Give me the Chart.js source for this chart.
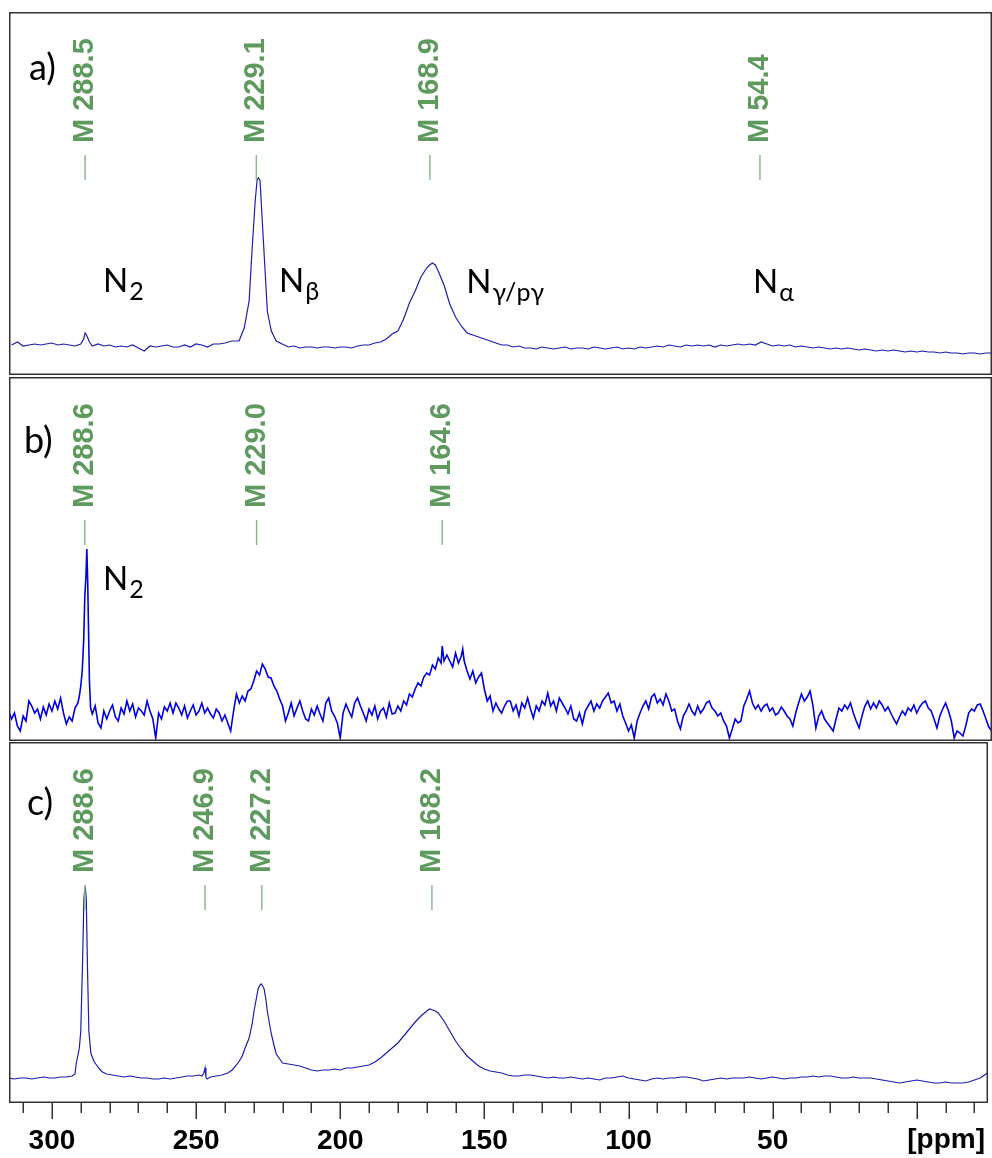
<!DOCTYPE html>
<html>
<head>
<meta charset="utf-8">
<title>15N NMR spectra a) b) c)</title>
<script src="https://cdn.jsdelivr.net/npm/chart.js@4.4.1/dist/chart.umd.min.js"></script>
<style>
  html, body { margin: 0; padding: 0; background: #fff; overflow: hidden; }
  body { width: 992px; height: 1158px; position: relative; }
  canvas { position: absolute; }
  #panelA { left: 9px; top: 12px; }
  #panelB { left: 9px; top: 377px; }
  #panelC { left: 9px; top: 742px; }
</style>
</head>
<body>
<canvas id="panelA" width="983" height="363"></canvas>
<canvas id="panelB" width="983" height="364"></canvas>
<canvas id="panelC" width="979" height="416"></canvas>
<script>
// ppm axis
const majorTicks = [300, 250, 200, 150, 100, 50];
const minorTicks = [310, 300, 290, 280, 270, 260, 250, 240, 230, 220, 210, 200, 190, 180, 170,
  160, 150, 140, 130, 120, 110, 100, 90, 80, 70, 60, 50, 40, 30, 20, 10, 0, -10, -20];
const unitLabel = "[ppm]";

// spectrum a)
const aPpm = [
  314, 312, 310, 308, 306, 304, 302, 300, 298, 296,
  294, 292, 290, 289, 288.5, 288, 287, 286, 284, 282,
  280, 278, 276, 274, 272, 270, 268, 266, 264, 262,
  260, 258, 256, 254, 252, 250, 248, 246, 244, 242,
  240, 237.5, 235.1, 233.3, 231.6, 230.6, 229.5, 228.8, 228.3, 227.8,
  227.1, 226, 225.3, 223.9, 222.2, 220.1, 218, 216, 214, 212,
  210, 208, 206, 204, 202, 200, 198, 196, 194, 192,
  190, 188, 186, 184, 182, 180, 178, 176, 174, 172,
  170, 169, 168, 167, 166, 164, 162, 160, 158, 156,
  154, 152, 150, 148, 146, 144, 142, 140, 138, 136,
  134, 132, 130, 128, 126, 124, 122, 120, 118, 116,
  114, 112, 110, 108, 106, 104, 102, 100, 98, 96,
  94, 92, 90, 88, 86, 84, 82, 80, 78, 76,
  74, 72, 70, 68, 66, 64, 62, 60, 58, 56,
  54, 52, 50, 48, 46, 44, 42, 40, 38, 36,
  34, 32, 30, 28, 26, 24, 22, 20, 18, 16,
  14, 12, 10, 8, 6, 4, 2, 0, -2, -4,
  -6, -8, -10, -12, -14, -16, -18, -20, -22, -24, -26
];
const aInt = [
  30, 33, 29, 30, 31, 30, 31, 32, 30, 31,
  30, 29, 31, 36, 42, 40, 33, 29, 31, 29,
  30, 28, 29, 28, 30, 27, 24, 29, 28, 29,
  30, 28, 28, 30, 28, 31, 30, 28, 31, 31,
  32, 34, 34, 47, 74, 124, 174, 196, 197, 194,
  157, 101, 64, 44, 34, 31, 28, 29, 27, 28,
  28, 27, 28, 28, 27, 28, 28, 27, 29, 30,
  30, 32, 33, 36, 41, 44, 56, 72, 84, 98,
  107, 110, 112, 110, 104, 90, 71, 58, 49, 42,
  40, 38, 36, 34, 32, 30, 30, 28, 29, 27,
  27, 26, 28, 27, 26, 27, 28, 26, 27, 27,
  26, 28, 27, 26, 27, 28, 26, 27, 26, 28,
  27, 28, 29, 28, 30, 29, 28, 30, 29, 30,
  29, 30, 28, 30, 29, 30, 31, 30, 31, 30,
  33, 31, 29, 30, 29, 30, 28, 29, 28, 27,
  28, 27, 26, 27, 26, 27, 26, 25, 26, 25,
  24, 25, 24, 25, 24, 23, 24, 23, 24, 23,
  23, 22, 23, 22, 22, 21, 22, 22, 21, 22, 22
];
const aMarkers = [288.5, 229.1, 168.9, 54.4];

// spectrum b)
const bPpm = [
  315, 314, 313, 312, 311, 310, 309, 308, 307, 306,
  305, 304, 303, 302, 301, 300, 299, 298, 297, 296,
  295, 294, 293, 292, 291, 290.5, 290, 289.5, 289, 288.6,
  288.2, 287.9, 287.6, 287.3, 287, 286.6, 286, 285, 284, 283,
  282, 281, 280, 279, 278, 277, 276, 275, 274, 273,
  272, 271, 270, 269, 268, 267, 266, 265, 264, 263,
  262, 261, 260, 259, 258, 257, 256, 255, 254, 253,
  252, 251, 250, 249, 248, 247, 246, 245, 244, 243,
  242, 241, 240, 239, 238, 237, 236, 235, 234, 233,
  232, 231, 230, 229, 228, 227, 226, 225, 224, 223,
  222, 221, 220, 219, 218, 217, 216, 215, 214, 213,
  212, 211, 210, 209, 208, 207, 206, 205, 204, 203,
  202, 201, 200, 199, 198, 197, 196, 195, 194, 193,
  192, 191, 190, 189, 188, 187, 186, 185, 184, 183,
  182, 181, 180, 179, 178, 177, 176, 175, 174, 173,
  172, 171, 170, 169, 168, 167, 166, 165, 164.6, 164,
  163, 162, 161, 160, 159, 158, 157.5, 157, 156, 155,
  154, 153, 152, 151, 150, 149, 148, 147, 146, 145,
  144, 143, 142, 141, 140, 139, 138, 137, 136, 135,
  134, 133, 132, 131, 130, 129, 128, 127, 126, 125,
  124, 123, 122, 121, 120, 119, 118, 117, 116, 115,
  114, 113, 112, 111, 110, 109, 108, 107, 106, 105,
  104, 103, 102, 101, 100, 99, 98, 97, 96, 95,
  94, 93, 92, 91, 90, 89, 88, 87, 86, 85,
  84, 83, 82, 81, 80, 79, 78, 77, 76, 75,
  74, 73, 72, 71, 70, 69, 68, 67, 66, 65,
  64, 63, 62, 61, 60, 59, 58, 57, 56, 55,
  54, 53, 52, 51, 50, 49, 48, 47, 46, 45,
  44, 43, 42, 41, 40, 39, 38, 37, 36, 35,
  34, 33, 32, 31, 30, 29, 28, 27, 26, 25,
  24, 23, 22, 21, 20, 19, 18, 17, 16, 15,
  14, 13, 12, 11, 10, 9, 8, 7, 6, 5,
  4, 3, 2, 1, 0, -1, -2, -3, -4, -5,
  -6, -7, -8, -9, -10, -11, -12, -13, -14, -15,
  -16, -17, -18, -19, -20, -21, -22, -23, -24, -25,
  -26
];
const bInt = [
  30, 22, 28, 15, 10, 25, 20, 40, 35, 28,
  32, 22, 34, 26, 37, 30, 40, 32, 43, 28,
  17, 24, 20, 33, 38, 45, 55, 70, 100, 145,
  165, 192, 160, 110, 60, 33, 27, 35, 18, 13,
  30, 22, 30, 36, 24, 20, 33, 27, 40, 30,
  37, 24, 33, 30, 26, 40, 30, 22, 3, 28,
  22, 34, 30, 38, 28, 38, 33, 26, 35, 23,
  30, 36, 26, 30, 38, 28, 33, 27, 23, 32,
  28, 20, 26, 18, 10, 30, 47, 38, 45, 40,
  50, 52, 60, 70, 66, 77, 72, 64, 63, 55,
  50, 42, 35, 20, 28, 38, 25, 33, 40, 30,
  22, 20, 32, 26, 35, 27, 20, 38, 43, 30,
  25, 18, 3, 28, 37, 30, 24, 38, 43, 35,
  28, 20, 32, 26, 35, 22, 30, 33, 24, 38,
  27, 28, 35, 30, 40, 36, 47, 44, 52, 58,
  55, 64, 68, 66, 76, 72, 83, 78, 95, 80,
  86, 80, 74, 88, 78, 85, 92, 80, 70, 62,
  70, 58, 64, 68, 52, 40, 45, 30, 38, 32,
  28, 35, 40, 40, 30, 36, 25, 38, 33, 43,
  32, 23, 35, 30, 40, 36, 48, 35, 40, 30,
  43, 38, 33, 27, 35, 22, 20, 28, 17, 30,
  35, 40, 30, 37, 33, 40, 44, 48, 38, 40,
  30, 37, 25, 18, 10, 16, 3, 20, 28, 35,
  40, 32, 44, 47, 38, 42, 36, 47, 40, 30,
  32, 20, 12, 25, 30, 37, 30, 26, 35, 28,
  32, 38, 40, 33, 30, 25, 28, 20, 15, 3,
  12, 22, 18, 20, 35, 42, 50, 38, 32, 36,
  30, 35, 37, 30, 33, 26, 28, 34, 30, 25,
  22, 15, 28, 38, 47, 40, 44, 50, 35, 13,
  25, 30, 22, 18, 14, 10, 22, 33, 30, 36,
  32, 38, 28, 20, 13, 25, 35, 40, 32, 38,
  33, 40, 36, 30, 34, 28, 22, 17, 24, 30,
  26, 33, 30, 36, 28, 34, 38, 40, 33, 30,
  22, 13, 25, 32, 38, 30, 20, 3, 10, 8,
  5, 15, 28, 32, 30, 36, 37, 30, 22, 14,
  10
];
const bMarkers = [288.6, 229.0, 164.6];

// spectrum c)
const cPpm = [
  315, 313, 311, 309, 307, 305, 303, 301, 299, 297,
  295, 293, 292, 291.6, 290.5, 290, 289.4, 288.9, 288.5, 288.1,
  287.7, 287.2, 286.5, 285.5, 284.8, 283.5, 282.5, 281, 279, 277,
  275, 273, 271, 269, 267, 265, 263, 261, 259, 257,
  255, 253, 251, 249, 248, 247.3, 246.9, 246.6, 246.2, 245,
  243, 241, 239, 237.5, 236, 235, 234, 233, 231.6, 230.5,
  229.9, 229, 228.5, 227.8, 227.4, 226.9, 226.4, 225.8, 225.3, 224.6,
  223.9, 223, 222.2, 221, 220, 218, 216, 214, 212, 210,
  208, 206, 204, 202, 200, 198, 196, 194, 192, 190,
  188, 186, 184, 182, 180, 178, 176, 174, 172, 170,
  169, 168, 167, 166, 164, 162, 160, 158, 156, 154,
  152, 150, 148, 146, 144, 142, 140, 138, 136, 134,
  132, 130, 128, 126, 124, 122, 120, 118, 116, 114,
  112, 110, 108, 106, 104, 102, 100, 98, 96, 94,
  92, 90, 88, 86, 84, 82, 80, 78, 76, 74,
  72, 70, 68, 66, 64, 62, 60, 58, 56, 54,
  52, 50, 48, 46, 44, 42, 40, 38, 36, 34,
  32, 30, 28, 26, 24, 22, 20, 18, 16, 14,
  12, 10, 8, 6, 4, 2, 0, -2, -4, -6,
  -8, -10, -12, -14, -16, -18, -20, -22, -24, -25
];
const cInt = [
  25, 24, 25, 25, 24, 25, 26, 25, 25, 26,
  26, 27, 29, 39, 55, 72, 139, 205, 217, 205,
  139, 72, 50, 42, 39, 34, 31, 29, 28, 27,
  26, 27, 26, 25, 25, 24, 24, 25, 24, 25,
  26, 27, 27, 28, 27, 30, 35, 26, 24, 26,
  27, 28, 30, 33, 38, 42, 47, 55, 65, 80,
  92, 106, 114, 118, 119, 117, 114, 104, 92, 80,
  69, 58, 49, 44, 40, 39, 38, 37, 35, 33,
  32, 33, 33, 34, 33, 35, 35, 36, 37, 38,
  41, 45, 50, 55, 60, 67, 74, 81, 87, 92,
  94, 93, 92, 90, 82, 72, 62, 54, 47, 42,
  37, 34, 32, 31, 30, 28, 27, 27, 28, 28,
  27, 26, 25, 26, 25, 25, 26, 25, 24, 25,
  24, 23, 25, 25, 26, 27, 25, 24, 23, 22,
  24, 25, 24, 25, 25, 26, 26, 25, 24, 22,
  23, 24, 25, 24, 25, 25, 25, 26, 25, 24,
  25, 26, 25, 24, 25, 25, 26, 26, 27, 26,
  27, 27, 26, 25, 25, 26, 25, 25, 25, 24,
  23, 22, 21, 20, 21, 22, 23, 22, 21, 20,
  20, 21, 20, 20, 20, 21, 23, 25, 29, 31
];
const cMarkers = [288.6, 246.9, 227.2, 168.2];

const markerGreen = "#5e9a5e";
const markerLine = "#8cba8c";
const textFont = "Lato, 'Noto Sans', sans-serif";

const panelDecor = {
  id: "panelDecor",
  afterDraw(chart, args, opts) {
    const ctx = chart.ctx;
    const area = chart.chartArea;
    const x = chart.scales.x;
    ctx.save();

    // frame
    ctx.strokeStyle = "#333";
    ctx.lineWidth = 1.5;
    ctx.strokeRect(area.left + 0.75, area.top + 0.75,
      area.right - area.left - 1.5, area.bottom - area.top - 1.5);

    // peak picking markers
    opts.markers.forEach((m) => {
      const px = x.getPixelForValue(m);
      ctx.strokeStyle = markerLine;
      ctx.lineWidth = 1.5;
      ctx.beginPath();
      ctx.moveTo(px, area.top + 143);
      ctx.lineTo(px, area.top + 168);
      ctx.stroke();

      ctx.save();
      ctx.translate(px, area.top + 131);
      ctx.rotate(-Math.PI / 2);
      ctx.fillStyle = markerGreen;
      ctx.font = "bold 29px 'Liberation Sans', Arial, sans-serif";
      ctx.textAlign = "left";
      ctx.textBaseline = "middle";
      ctx.fillText("M " + m.toFixed(1), 0, 0);
      ctx.restore();
    });

    // panel letter
    ctx.fillStyle = "#000";
    ctx.textAlign = "left";
    ctx.textBaseline = "alphabetic";
    ctx.font = "36px " + textFont;
    ctx.fillText(opts.letter.text, area.left + opts.letter.dx, area.top + opts.letter.dy);

    // peak assignments N with subscript
    opts.labels.forEach((l) => {
      const px = x.getPixelForValue(l.ppm);
      const py = area.top + l.dy;
      ctx.font = "33px " + textFont;
      ctx.fillText("N", px, py);
      const w = ctx.measureText("N").width;
      ctx.font = "25px " + textFont;
      ctx.fillText(l.sub, px + w + 1, py + 8);
    });

    // unit label under the axis
    if (opts.unit) {
      ctx.font = "bold 28px 'Liberation Sans', Arial, sans-serif";
      ctx.textAlign = "right";
      ctx.fillText(opts.unit, area.right - 3, area.bottom + 45);
    }
    ctx.restore();
  },
};

// minor and major tick marks below the last panel
const tickMarks = {
  id: "tickMarks",
  afterDraw(chart) {
    const ctx = chart.ctx;
    const x = chart.scales.x;
    if (!x.options.display) return;
    const bottom = chart.chartArea.bottom;
    ctx.save();
    ctx.strokeStyle = "#333";
    ctx.lineWidth = 1.5;
    minorTicks.forEach((v) => {
      const px = Math.round(x.getPixelForValue(v)) + 0.25;
      const len = majorTicks.includes(v) || v === 0 ? 16 : 10;
      ctx.beginPath();
      ctx.moveTo(px, bottom);
      ctx.lineTo(px, bottom + len);
      ctx.stroke();
    });
    ctx.restore();
  },
};

function makePanel(id, ppm, intensity, xMin, yMax, color, width, decor, showAxis) {
  const ctx = document.getElementById(id).getContext("2d");
  return new Chart(ctx, {
    type: "line",
    data: {
      datasets: [
        {
          data: ppm.map((p, i) => ({ x: p, y: intensity[i] })),
          borderColor: color,
          borderWidth: width,
          pointRadius: 0,
          tension: 0,
          fill: false,
        },
      ],
    },
    options: {
      responsive: false,
      animation: false,
      layout: { padding: 0 },
      plugins: {
        legend: { display: false },
        tooltip: { enabled: false },
        panelDecor: decor,
      },
      scales: {
        x: {
          type: "linear",
          reverse: true,
          min: xMin,
          max: 314.9,
          display: showAxis,
          grid: { display: false },
          border: { display: false },
          afterBuildTicks: (scale) => {
            scale.ticks = majorTicks.map((v) => ({ value: v }));
          },
          afterFit: (scale) => {
            scale.height = showAxis ? 55 : 0;
          },
          ticks: {
            autoSkip: false,
            maxRotation: 0,
            minRotation: 0,
            padding: 13,
            color: "#000",
            font: { family: "'Liberation Sans', Arial, sans-serif", size: 28, weight: "bold" },
          },
        },
        y: { display: false, min: 0, max: yMax },
      },
    },
    plugins: [panelDecor, tickMarks],
  });
}

makePanel("panelA", aPpm, aInt, -26.1, 363, "#1c1cae", 1.2, {
  markers: aMarkers,
  letter: { text: "a)", dx: 20, dy: 68 },
  labels: [
    { ppm: 282.3, dy: 280, sub: "2" },
    { ppm: 221.2, dy: 280, sub: "β" },
    { ppm: 156.3, dy: 281, sub: "γ/pγ" },
    { ppm: 56.8, dy: 281, sub: "α" },
  ],
}, false);

makePanel("panelB", bPpm, bInt, -26.1, 364, "#0000e0", 1.6, {
  markers: bMarkers,
  letter: { text: "b)", dx: 15, dy: 76 },
  labels: [{ ppm: 282.3, dy: 213, sub: "2" }],
}, false);

makePanel("panelC", cPpm, cInt, -24.7, 361, "#1c1cae", 1.2, {
  markers: cMarkers,
  letter: { text: "c)", dx: 18, dy: 73 },
  labels: [],
  unit: unitLabel,
}, true);
</script>
</body>
</html>
